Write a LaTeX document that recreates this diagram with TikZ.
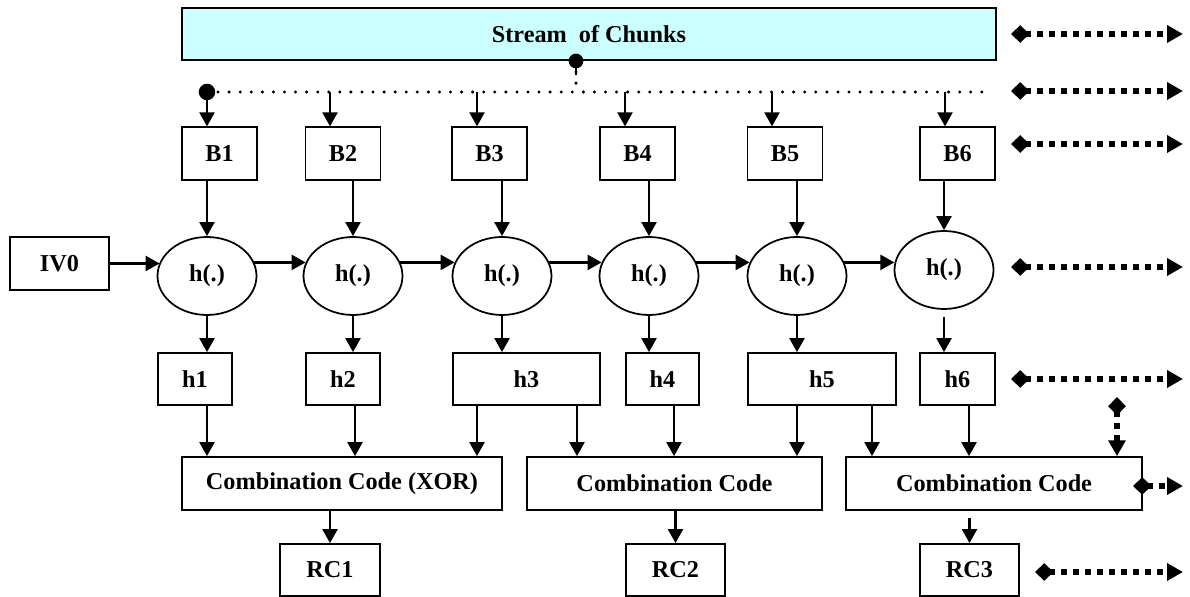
\documentclass[tikz,border=0pt]{standalone}
\usepackage{fontspec}
\setmainfont{Liberation Serif}
\usetikzlibrary{arrows.meta,shapes.geometric}
\definecolor{chunkcyan}{RGB}{204,255,255}
\newcommand{\lab}{\fontsize{13.8}{16}\selectfont\bfseries}

\begin{document}
\begin{tikzpicture}[x=0.02cm,y=-0.02cm,
    box/.style={draw,line width=1pt,inner sep=0pt,font=\lab},
    small/.style={box,minimum width=1.5cm,minimum height=1.05cm},
    hfun/.style={draw,ellipse,line width=1pt,inner sep=0pt,minimum width=1.98cm,minimum height=1.56cm,font=\lab},
    arr/.style={line width=1.5pt,-{Triangle[length=8pt,width=8.5pt]}},
    bus/.style={line width=1.9pt,line cap=round,dash pattern=on 0pt off 6.3pt},
    feed/.style={line width=3.3pt,dash pattern=on 3.4pt off 3.4pt,{Diamond[length=10.5pt,width=10pt]}-{Triangle[length=9pt,width=9.5pt]}}]
    \useasboundingbox (0,0) rectangle (1190,597);

    % stream of chunks and the bus below it
    \node[box,fill=chunkcyan,minimum width=16.28cm,minimum height=1.04cm] (stream) at (589,34) {Stream~~of Chunks};
    \coordinate (tap) at (576,61);
    \coordinate (t1) at (207,92);
    \coordinate (t2) at (330,92);
    \coordinate (t3) at (477,92);
    \coordinate (t4) at (625,92);
    \coordinate (t5) at (772,92);
    \coordinate (t6) at (945,92);
    \coordinate (tend) at (990,92);
    \draw[bus] (tap) -- (tap |- t1);
    \draw[line width=1.3pt] (tap) -- ++(0,14);
    \fill (tap) circle (4.2pt);
    \draw[bus] (t1) -- (tend);
    \fill (t1) circle (4.7pt);

    % blocks
    \node[small] (B1) at (219.5,153.5) {B1};
    \node[small] (B2) at (343,153.5) {B2};
    \node[small] (B3) at (489.5,153.5) {B3};
    \node[small] (B4) at (637.5,153.5) {B4};
    \node[small] (B5) at (785,153.5) {B5};
    \node[small] (B6) at (957.5,153.5) {B6};
    \draw[arr] (t1) -- (t1 |- B1.north);
    \draw[arr] (t2) -- (t2 |- B2.north);
    \draw[arr] (t3) -- (t3 |- B3.north);
    \draw[arr] (t4) -- (t4 |- B4.north);
    \draw[arr] (t5) -- (t5 |- B5.north);
    \draw[arr] (t6) -- (t6 |- B6.north);

    % hash chain
    \node[box,minimum width=1.98cm,minimum height=1.06cm] (IV0) at (59.5,263.5) {IV0};
    \node[hfun] (e1) at (207,276) {h(.)};
    \node[hfun] (e2) at (353,276) {h(.)};
    \node[hfun] (e3) at (502,276) {h(.)};
    \node[hfun] (e4) at (649,276) {h(.)};
    \node[hfun] (e5) at (797,276) {h(.)};
    \node[hfun] (e6) at (944,270) {h(.)};
    \draw[arr] (B1.south -| e1) -- (e1.north);
    \draw[arr] (B2.south -| e2) -- (e2.north);
    \draw[arr] (B3.south -| e3) -- (e3.north);
    \draw[arr] (B4.south -| e4) -- (e4.north);
    \draw[arr] (B5.south -| e5) -- (e5.north);
    \draw[arr] (B6.south -| e6) -- (e6.north);
    \draw[arr] (IV0.east) -- (IV0.east -| e1.164);
    \draw[arr] (e1.16) -- (e1.16 -| e2.164);
    \draw[arr] (e2.16) -- (e2.16 -| e3.164);
    \draw[arr] (e3.16) -- (e3.16 -| e4.164);
    \draw[arr] (e4.16) -- (e4.16 -| e5.164);
    \draw[arr] (e5.16) -- (e5.16 -| e6.172);

    % hash values
    \node[box,minimum width=1.48cm,minimum height=1.04cm] (h1) at (195,379) {h1};
    \node[box,minimum width=1.48cm,minimum height=1.04cm] (h2) at (343,379) {h2};
    \node[box,minimum width=2.94cm,minimum height=1.04cm] (h3) at (526.5,379) {h3};
    \node[box,minimum width=1.46cm,minimum height=1.04cm] (h4) at (662.5,379) {h4};
    \node[box,minimum width=2.96cm,minimum height=1.04cm] (h5) at (822,379) {h5};
    \node[box,minimum width=1.5cm,minimum height=1.04cm] (h6) at (957.5,379) {h6};
    \draw[arr] (e1.south) -- (e1 |- h1.north);
    \draw[arr] (e2.south) -- (e2 |- h2.north);
    \draw[arr] (e3.south) -- (e3 |- h3.north);
    \draw[arr] (e4.south) -- (e4 |- h4.north);
    \draw[arr] (e5.south) -- (e5 |- h5.north);
    \draw[arr,shorten <=4pt] (e6.south) -- (e6 |- h6.north);

    % combination codes
    \node[box,minimum width=6.4cm,minimum height=1.06cm] (comb1) at (342,483.5) {Combination Code (XOR)};
    \node[box,minimum width=5.9cm,minimum height=1.06cm] (comb2) at (674.5,483.5) {Combination Code};
    \node[box,minimum width=5.92cm,minimum height=1.06cm] (comb3) at (994,483.5) {Combination Code};
    \coordinate (c1) at (207,0);
    \coordinate (c2) at (355,0);
    \coordinate (c3) at (477,0);
    \coordinate (c4) at (577,0);
    \coordinate (c5) at (674,0);
    \coordinate (c6) at (797,0);
    \coordinate (c7) at (872,0);
    \coordinate (c8) at (969,0);
    \draw[arr] (h1.south -| c1) -- (c1 |- comb1.north);
    \draw[arr] (h2.south -| c2) -- (c2 |- comb1.north);
    \draw[arr] (h3.south -| c3) -- (c3 |- comb1.north);
    \draw[arr] (h3.south -| c4) -- (c4 |- comb2.north);
    \draw[arr] (h4.south -| c5) -- (c5 |- comb2.north);
    \draw[arr] (h5.south -| c6) -- (c6 |- comb2.north);
    \draw[arr] (h5.south -| c7) -- (c7 |- comb3.north);
    \draw[arr] (h6.south -| c8) -- (c8 |- comb3.north);

    % results
    \node[box,minimum width=2cm,minimum height=1.04cm] (RC1) at (330,570) {RC1};
    \node[box,minimum width=1.98cm,minimum height=1.04cm] (RC2) at (675.5,570) {RC2};
    \node[box,minimum width=1.98cm,minimum height=1.04cm] (RC3) at (969.5,570) {RC3};
    \draw[arr] (comb1.south -| RC1) -- (RC1.north);
    \draw[arr] (comb2.south -| RC2) -- (RC2.north);
    \draw[arr,shorten <=4pt] (comb3.south -| RC3) -- (RC3.north);

    % continuation to the right
    \coordinate (f1) at (1011,34);
    \coordinate (f2) at (1011,91);
    \coordinate (f3) at (1011,144);
    \coordinate (f4) at (1011,267);
    \coordinate (f5) at (1011,379);
    \coordinate (f6) at (1035,572);
    \coordinate (f7) at (1133,486);
    \coordinate (fend) at (1183,0);
    \coordinate (fdown) at (1117,397);
    \draw[feed] (f1) -- (f1 -| fend);
    \draw[feed] (f2) -- (f2 -| fend);
    \draw[feed] (f3) -- (f3 -| fend);
    \draw[feed] (f4) -- (f4 -| fend);
    \draw[feed] (f5) -- (f5 -| fend);
    \draw[feed] (f6) -- (f6 -| fend);
    \draw[feed] (f7) -- (f7 -| fend);
    \draw[feed] (fdown) -- (fdown |- comb3.north);
\end{tikzpicture}
\end{document}
